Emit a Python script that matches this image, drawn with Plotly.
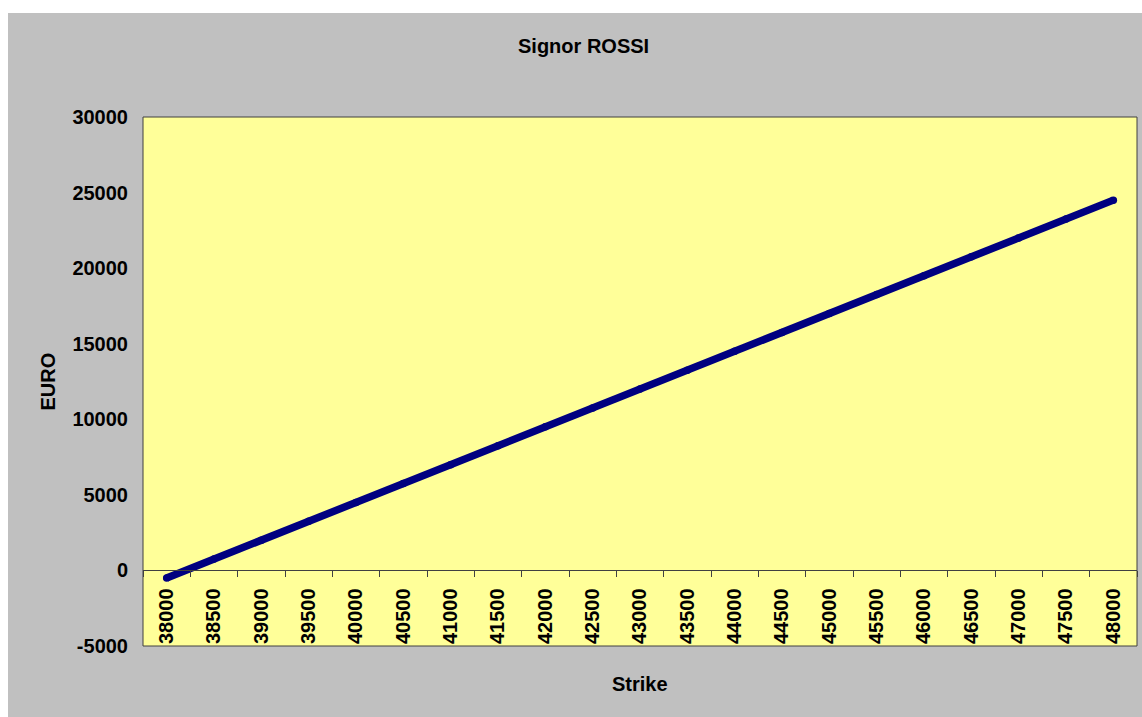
import plotly.graph_objects as go

# Strike prices (category axis) and the resulting position value in EURO
strikes = ["38000", "38500", "39000", "39500", "40000", "40500", "41000",
           "41500", "42000", "42500", "43000", "43500", "44000", "44500",
           "45000", "45500", "46000", "46500", "47000", "47500", "48000"]
euro = [-500, 750, 2000, 3250, 4500, 5750, 7000, 8250, 9500, 10750, 12000,
        13250, 14500, 15750, 17000, 18250, 19500, 20750, 22000, 23250, 24500]

y_ticks = [-5000, 0, 5000, 10000, 15000, 20000, 25000, 30000]
y_tick_text = ["-5000", "0", "5000", "10000", "15000", "20000", "25000", "30000"]
y_min, y_max = -5000, 30000

W, H = 1142, 717
ML, MR, MT, MB = 143, 5, 117, 71
pw, ph = W - ML - MR, H - MT - MB

def px_x(p):
    return (p - ML) / pw

def px_y(p):
    return (H - MB - p) / ph

FONT = "Liberation Sans, Arial, sans-serif"
GRAY = "#C0C0C0"
YELLOW = "#FFFF99"
NAVY = "#000080"
EDGE = "#404040"

fig = go.Figure()
fig.add_trace(go.Scatter(
    x=strikes, y=euro, mode="lines+markers",
    line=dict(color=NAVY, width=7.5),
    marker=dict(color=NAVY, size=7.5),
    hoverinfo="x+y", showlegend=False,
))

fig.update_layout(
    width=W, height=H,
    margin=dict(l=ML, r=MR, t=MT, b=MB, pad=0),
    paper_bgcolor=GRAY,
    plot_bgcolor=YELLOW,
    font=dict(family=FONT, size=20, color="black", weight="bold"),
    xaxis=dict(
        type="category", range=[-0.5, len(strikes) - 0.5],
        anchor="free", position=(0 - y_min) / (y_max - y_min),
        showline=True, linecolor=EDGE, linewidth=1,
        ticks="outside", ticklen=6, tickcolor=EDGE, tickwidth=1,
        tickson="boundaries", tickangle=-90, ticklabelstandoff=9,
        tickfont=dict(family=FONT, size=20, color="black", weight="bold"),
        showgrid=False, zeroline=False, fixedrange=True,
    ),
    yaxis=dict(
        range=[y_min, y_max], tickmode="array",
        tickvals=y_ticks, ticktext=y_tick_text,
        ticks="", ticklabelstandoff=14,
        tickfont=dict(family=FONT, size=20, color="black", weight="bold"),
        showgrid=False, zeroline=False, showline=False, fixedrange=True,
    ),
    shapes=[
        # white strips along the top and left of the page
        dict(type="rect", xref="paper", yref="paper", layer="below",
             x0=px_x(0), x1=px_x(W), y0=px_y(13), y1=px_y(0),
             fillcolor="white", line=dict(width=0)),
        dict(type="rect", xref="paper", yref="paper", layer="below",
             x0=px_x(0), x1=px_x(8), y0=px_y(H), y1=px_y(0),
             fillcolor="white", line=dict(width=0)),
        # plot area frame
        dict(type="rect", xref="paper", yref="paper", layer="above",
             x0=0, x1=1, y0=0, y1=1,
             fillcolor="rgba(0,0,0,0)", line=dict(color=EDGE, width=1)),
    ],
    annotations=[
        dict(text="Signor ROSSI", xref="paper", yref="paper",
             x=px_x(583), y=px_y(46), xanchor="center", yanchor="middle",
             showarrow=False, font=dict(family=FONT, size=20, weight="bold")),
        dict(text="Strike", xref="paper", yref="paper",
             x=0.5, y=px_y(684), xanchor="center", yanchor="middle",
             showarrow=False, font=dict(family=FONT, size=20, weight="bold")),
        dict(text="EURO", xref="paper", yref="paper",
             x=px_x(47), y=0.5, xanchor="center", yanchor="middle",
             textangle=-90, showarrow=False,
             font=dict(family=FONT, size=20, weight="bold")),
    ],
)

fig.write_html("out.html", config={"displayModeBar": False})
